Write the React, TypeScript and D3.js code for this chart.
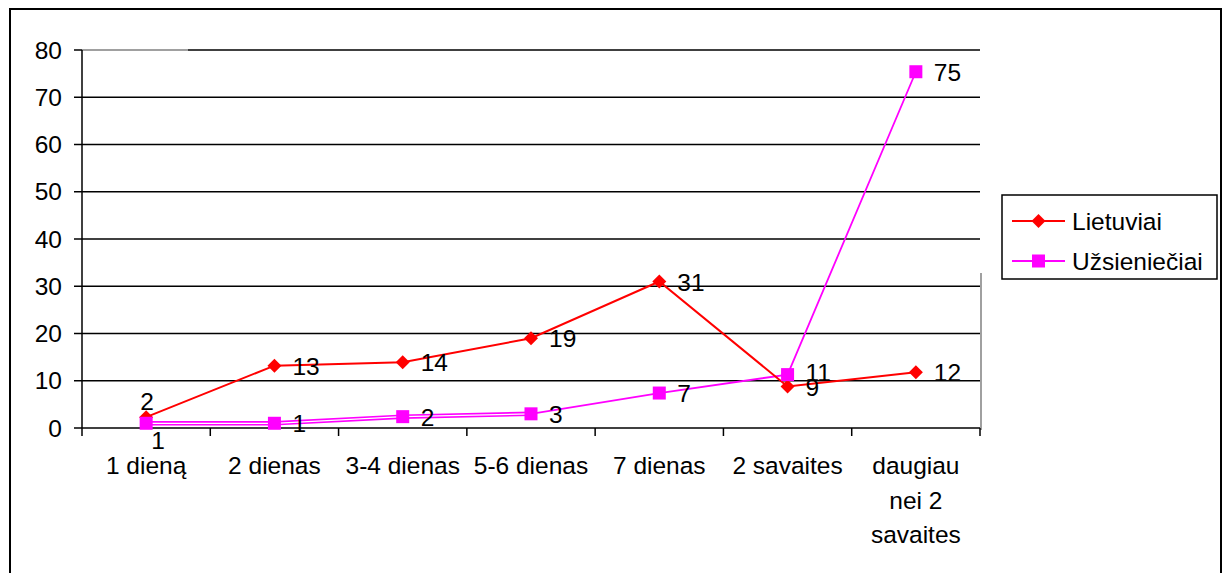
import React from "react";
import * as d3 from "d3";

const categories: string[][] = [
  ["1 dieną"],
  ["2 dienas"],
  ["3-4 dienas"],
  ["5-6 dienas"],
  ["7 dienas"],
  ["2 savaites"],
  ["daugiau", "nei 2", "savaites"],
];
const lietuviai = [2.3, 13.2, 13.9, 19.0, 31.0, 8.8, 11.8];
const uzsienieciai = [1.0, 1.0, 2.4, 3.0, 7.4, 11.3, 75.4];
const yTicks = [0, 10, 20, 30, 40, 50, 60, 70, 80];
const seriesNames = ["Lietuviai", "Užsieniečiai"];

const RED = "#ff0000";
const MAG = "#ff00ff";
const FONT = "'Liberation Sans', Arial, sans-serif";
const FS = 24.5;

export default function App() {
  const W = 1227, H = 573;
  const left = 82, right = 980, top = 50, bottom = 428;
  const y = d3.scaleLinear().domain([0, 80]).range([bottom, top]);
  const xb = d3.scaleBand<number>().domain(categories.map((_, i) => i)).range([left, right]);
  const cx = (i: number) => (xb(i) as number) + xb.bandwidth() / 2;
  const line = d3.line<number>().x((_, i) => cx(i)).y((v) => y(v));
  const boundaries = d3.range(categories.length + 1).map((i) => left + i * xb.bandwidth());

  const diamond = (x: number, yy: number, key: string, s = 7) => (
    <path key={key} d={`M${x},${yy - s}L${x + s},${yy}L${x},${yy + s}L${x - s},${yy}Z`} fill={RED} />
  );
  const square = (x: number, yy: number, key: string, s = 6.5) => (
    <rect key={key} x={x - s} y={yy - s} width={2 * s} height={2 * s} fill={MAG} />
  );

  const label = (v: number, i: number, series: number) => {
    let lx = cx(i) + 18, ly = y(v) + 0.5, anchor = "start";
    if (i === 0) {
      anchor = "middle";
      if (series === 0) { lx = cx(i) + 1; ly = y(v) - 16; }
      else { lx = cx(i) + 12; ly = y(v) + 17; }
    } else {
      // nudge apart labels of the two series that sit close together
      const a = y(lietuviai[i]), b = y(uzsienieciai[i]);
      if (Math.abs(a - b) < 16) {
        const upper = series === 0 ? a < b : b < a;
        ly += upper ? -3 : 1;
      }
    }
    return (
      <text key={`l${series}-${i}`} x={lx} y={ly} textAnchor={anchor} dominantBaseline="central"
        fontSize={FS} fontFamily={FONT} fill="#000">{Math.round(v)}</text>
    );
  };

  return (
    <svg width={W} height={H} style={{ position: "absolute", left: 0, top: 0, background: "#fff" }}>
      <rect x={0} y={0} width={W} height={H} fill="#fff" />
      <rect x={10} y={9} width={1211} height={580} fill="none" stroke="#000" strokeWidth={2} />

      {yTicks.filter((t) => t > 0).map((t) => (
        t === 80 ? (
          <g key={`g${t}`}>
            <line x1={left} x2={188} y1={y(t)} y2={y(t)} stroke="#808080" strokeWidth={1.5} />
            <line x1={188} x2={right} y1={y(t)} y2={y(t)} stroke="#000" strokeWidth={1.5} />
          </g>
        ) : (
          <line key={`g${t}`} x1={left} x2={right} y1={y(t)} y2={y(t)} stroke="#000" strokeWidth={1.5} />
        )
      ))}
      <line x1={right + 1} x2={right + 1} y1={273} y2={bottom + 2} stroke="#808080" strokeWidth={1.5} />

      <line x1={left} x2={left} y1={top} y2={bottom} stroke="#000" strokeWidth={1.5} />
      {yTicks.map((t) => (
        <g key={`yt${t}`}>
          <line x1={left - 8} x2={left} y1={y(t)} y2={y(t)} stroke="#000" strokeWidth={1.5} />
          <text x={62} y={y(t)} textAnchor="end" dominantBaseline="central" fontSize={FS} fontFamily={FONT}>{t}</text>
        </g>
      ))}

      <line x1={left} x2={right} y1={bottom} y2={bottom} stroke="#000" strokeWidth={1.5} />
      {boundaries.map((bx, i) => (
        <line key={`xt${i}`} x1={bx} x2={bx} y1={bottom} y2={bottom + 8} stroke="#000" strokeWidth={1.5} />
      ))}
      {categories.map((lines, i) => (
        <text key={`xl${i}`} x={cx(i)} y={474} textAnchor="middle" fontSize={FS} fontFamily={FONT}>
          {lines.map((ln, j) => (
            <tspan key={j} x={cx(i)} dy={j === 0 ? 0 : 34.5}>{ln}</tspan>
          ))}
        </text>
      ))}

      <path d={line(uzsienieciai.slice(0, 4)) as string} fill="none" stroke={MAG} strokeWidth={4.5} />
      <path d={line(uzsienieciai.slice(0, 4)) as string} fill="none" stroke="#fff" strokeWidth={1.3} />
      <path d={line(uzsienieciai) as string} fill="none" stroke={MAG} strokeWidth={1.8}
        strokeDasharray={`0 ${cx(3) - cx(0)} 10000`} />
      <path d={line(lietuviai) as string} fill="none" stroke={RED} strokeWidth={2} />
      {lietuviai.map((v, i) => diamond(cx(i), y(v), `d${i}`))}
      {uzsienieciai.map((v, i) => square(cx(i), y(v), `s${i}`))}
      {lietuviai.map((v, i) => label(v, i, 0))}
      {uzsienieciai.map((v, i) => label(v, i, 1))}

      <rect x={1002} y={195} width={215} height={84} fill="#fff" stroke="#000" strokeWidth={1.5} />
      {seriesNames.map((name, k) => {
        const ly = k === 0 ? 221 : 261;
        return (
          <g key={`lg${k}`}>
            <line x1={1012} x2={1065} y1={ly} y2={ly} stroke={k === 0 ? RED : MAG} strokeWidth={2} />
            {k === 0 ? diamond(1038.5, ly, "ld", 7) : square(1038.5, ly, "ls", 6.5)}
            <text x={1072} y={ly} dominantBaseline="central" fontSize={FS} fontFamily={FONT}>{name}</text>
          </g>
        );
      })}
    </svg>
  );
}
